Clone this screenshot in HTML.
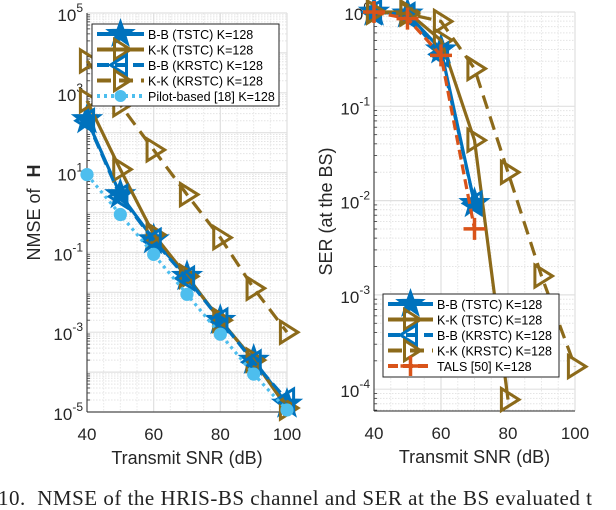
<!DOCTYPE html>
<html><head><meta charset="utf-8"><style>
body{margin:0;background:#fff;width:616px;height:500px;overflow:hidden;font-family:"Liberation Sans",sans-serif}
svg{position:absolute;left:0;top:0}
.cap{position:absolute;left:-2px;top:486px;font-family:"Liberation Serif",serif;font-size:21px;line-height:24px;color:#222;white-space:nowrap;letter-spacing:0.5px}
</style></head><body>
<svg id="chart" width="616" height="500"></svg>
<div class="cap">10.&nbsp; NMSE of the HRIS-BS channel and SER at the BS evaluated t</div>
<script>
const snr=[40,50,60,70,80,90,100];
const xTicks=[40,60,80,100];
// left: log10 NMSE
const nmseBB_TSTC=[2.33,0.45,-0.68,-1.6,-2.7,-3.7,-4.8];
const nmseKK_TSTC=[2.8,1.08,-0.55,-1.6,-2.7,-3.7,-4.9];
const nmseBB_KRSTC=[2.3,0.4,-0.7,-1.65,-2.7,-3.75,-4.7];
const nmseKK_KRSTC=[3.8,2.7,1.57,0.45,-0.63,-1.9,-3.0];
const nmsePilot=[0.95,-0.05,-1.05,-2.05,-3.05,-4.05,-4.95];
const leftYTicks=[-5,-3,-1,1,3,5];
// right: log10 SER
const serBB_TSTC=[0,-0.02,-0.4,-2.03];
const serKK_TSTC=[0,0,-0.3,-1.36,-4.11];
const serBB_KRSTC=[0,-0.03,-0.45,-2.03];
const serKK_KRSTC=[0,-0.02,-0.1,-0.6,-1.7,-2.8,-3.76];
const serTALS=[0,-0.07,-0.46,-2.3];
const rightYTicks=[-4,-3,-2,-1,0];

const NS='http://www.w3.org/2000/svg';
const svg=document.getElementById('chart');
function el(t,a,p){const e=document.createElementNS(NS,t);for(const k in a)e.setAttribute(k,a[k]);(p||svg).appendChild(e);return e;}
const BLUE='#0072BD',BROWN='#8C6A1A',LB='#4DBEEE',OR='#D95319';

function marker(g,type,x,y,c,s){
  let e;
  if(type==='star'){let pts=[];for(let i=0;i<10;i++){const r=i%2?s*0.4:s;const a=-Math.PI/2+i*Math.PI/5;pts.push((x+r*Math.cos(a)).toFixed(1)+','+(y+r*Math.sin(a)).toFixed(1));}
    e=el('polygon',{points:pts.join(' '),fill:BLUE,stroke:c,'stroke-width':2},g);}
  else if(type==='rtri'){e=el('polygon',{points:`${x-s*0.6},${y-s} ${x+s},${y} ${x-s*0.6},${y+s}`,fill:'none',stroke:c,'stroke-width':3},g);}
  else if(type==='ltri'){e=el('polygon',{points:`${x+s*0.6},${y-s} ${x-s},${y} ${x+s*0.6},${y+s}`,fill:'none',stroke:c,'stroke-width':3},g);}
  else if(type==='circ'){e=el('circle',{cx:x,cy:y,r:s*0.6,fill:c},g);}
  else if(type==='plus'){e=el('path',{d:`M${x-s},${y}H${x+s}M${x},${y-s}V${y+s}`,stroke:c,'stroke-width':3.5},g);}
  
  
}

function panel(o){
  const g=el('g',{});
  
  
  const X=v=>o.x0+(v-40)/60*(o.x1-o.x0);
  const Y=v=>o.yTop+(o.yMax-v)*o.dec;
  const yb=o.yBot;
  for(let d=Math.floor(o.yMin);d<o.yMax;d++)for(let m=2;m<10;m++){const yy=Y(d+Math.log10(m));if(yy<o.yTop||yy>yb)continue;
    el('line',{x1:o.x0,x2:o.x1,y1:yy,y2:yy,stroke:'#e4e4e4','stroke-width':1,'stroke-dasharray':'1.5,1.5'},g);
    el('line',{x1:o.x0,x2:o.x0+3,y1:yy,y2:yy,stroke:'#333','stroke-width':0.8},g);}
  for(let v=40;v<=100;v+=5){if(v%20===0)continue;el('line',{x1:X(v),x2:X(v),y1:o.yTop,y2:yb,stroke:'#e8e8e8','stroke-width':1,'stroke-dasharray':'1.5,1.5'},g);}
  for(let d=Math.ceil(o.yMin);d<=o.yMax;d++){el('line',{x1:o.x0,x2:o.x1,y1:Y(d),y2:Y(d),stroke:'#e0e0e0','stroke-width':1.2},g);}
  xTicks.forEach(v=>{el('line',{x1:X(v),x2:X(v),y1:o.yTop,y2:yb,stroke:'#e0e0e0','stroke-width':1.2},g);
    const t=el('text',{x:X(v),y:yb+28,'text-anchor':'middle','font-size':17,fill:'#262626'},g);t.textContent=v;
    });
  o.yt.forEach(d=>{const t=el('text',{x:o.x0-4,y:Y(d)+8,'text-anchor':'end','font-size':17,fill:'#262626'},g);
    t.textContent='10';const s=el('tspan',{dy:-9,'font-size':12},t);s.textContent=d;
    });
  el('line',{x1:o.x0,x2:o.x1,y1:yb,y2:yb,stroke:'#262626','stroke-width':1},g);
  el('line',{x1:o.x0,x2:o.x0,y1:o.yTop,y2:yb,stroke:'#262626','stroke-width':1},g);
  const xl=el('text',{x:(o.x0+o.x1)/2,y:yb+52,'text-anchor':'middle','font-size':18,fill:'#262626'},g);xl.textContent='Transmit SNR (dB)';
  
  const yl=el('text',{x:0,y:0,'text-anchor':'middle','font-size':18,fill:'#262626',transform:`translate(${o.ylx},${(o.yTop+yb)/2}) rotate(-90)`},g);
  yl.innerHTML=o.ylab;
  const clip=el('g',{},g);
  o.series.forEach(s=>{
    const sg=el('g',{},clip);
    
    
    const pts=s.data.map((v,i)=>X(snr[i]).toFixed(1)+','+Y(v).toFixed(1)).join(' ');
    el('polyline',{points:pts,fill:'none',stroke:s.c,'stroke-width':s.w||3.2,'stroke-dasharray':s.dash||''},sg);
    s.data.forEach((v,i)=>marker(sg,s.m,X(snr[i]),Y(v),s.c,s.ms||11));
  });
  const L=o.leg;
  const lg=el('g',{},g);
  
  el('rect',{x:L.x,y:L.y,width:L.w,height:L.h,fill:'#fff',stroke:'#262626','stroke-width':1},lg);
  o.series.forEach((s,i)=>{
    const yy=L.y+L.r0+i*L.dy;
    const eg=el('g',{},lg);
    
    el('line',{x1:L.x+5,x2:L.x+L.lw,y1:yy,y2:yy,stroke:s.c,'stroke-width':4,'stroke-dasharray':s.dash||''},eg);
    marker(eg,s.m,L.x+5+(L.lw-5)/2,yy,s.c,s.m==='star'?13:10);
    const t=el('text',{x:L.x+L.lw+4,y:yy+5,'font-size':L.fs,fill:'#000'},eg);t.textContent=s.label;
  });
}

panel({name:'nmse-panel',x0:87,x1:287,yTop:13,yBot:412,dec:39.9,yMax:5,yMin:-5,yt:leftYTicks,ylx:40,
  ylab:'NMSE of <tspan font-weight="bold" dx="6">H</tspan>',
  series:[
   {name:'series-bb-tstc',data:nmseBB_TSTC,c:BLUE,m:'star',label:'B-B (TSTC) K=128',ms:14},
   {name:'series-kk-tstc',data:nmseKK_TSTC,c:BROWN,m:'rtri',label:'K-K (TSTC) K=128'},
   {name:'series-bb-krstc',data:nmseBB_KRSTC,c:BLUE,m:'ltri',dash:'12,6',label:'B-B (KRSTC) K=128'},
   {name:'series-kk-krstc',data:nmseKK_KRSTC,c:BROWN,m:'rtri',dash:'14,8',label:'K-K (KRSTC) K=128'},
   {name:'series-pilot',data:nmsePilot,c:LB,m:'circ',dash:'3,4',label:'Pilot-based [18] K=128'}],
  leg:{x:92,y:24,w:187,h:82,r0:10,dy:15.5,lw:52,fs:12.5}});

panel({name:'ser-panel',x0:374,x1:575,yTop:12,yBot:411,dec:94.3,yMax:0,yMin:-4.22,yt:rightYTicks,ylx:332,
  ylab:'SER (at the BS)',
  series:[
   {name:'series-bb-tstc',data:serBB_TSTC,c:BLUE,m:'star',label:'B-B (TSTC) K=128',ms:14},
   {name:'series-kk-tstc',data:serKK_TSTC,c:BROWN,m:'rtri',label:'K-K (TSTC) K=128'},
   {name:'series-bb-krstc',data:serBB_KRSTC,c:BLUE,m:'ltri',dash:'12,6',label:'B-B (KRSTC) K=128'},
   {name:'series-kk-krstc',data:serKK_KRSTC,c:BROWN,m:'rtri',dash:'14,8',label:'K-K (KRSTC) K=128'},
   {name:'series-tals',data:serTALS,c:OR,m:'plus',dash:'10,5',label:'TALS [50] K=128'}],
  leg:{x:383,y:294,w:176,h:83,r0:10,dy:15.5,lw:50,fs:12.5}});
</script>
</body></html>
